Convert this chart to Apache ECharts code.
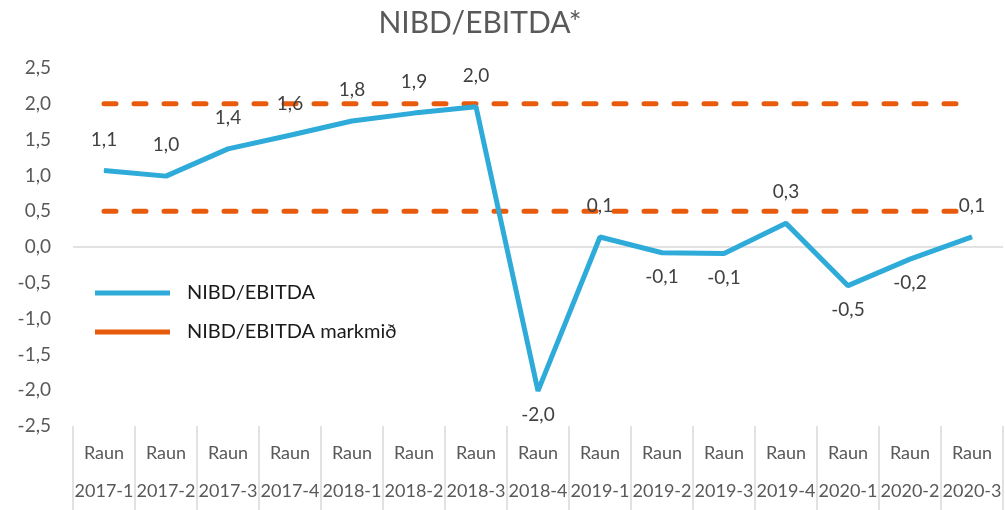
<!DOCTYPE html>
<html>
<head>
<meta charset="utf-8">
<script src="https://cdn.jsdelivr.net/npm/echarts@6/dist/echarts.min.js"></script>
<style>
  html, body { margin: 0; padding: 0; background: #fff; }
  #chart { width: 1005px; height: 510px; }
</style>
</head>
<body>
<div id="chart"></div>
<script>
// categories: top line "Raun", bottom line the quarter
const periods = ['2017-1', '2017-2', '2017-3', '2017-4', '2018-1', '2018-2', '2018-3', '2018-4',
  '2019-1', '2019-2', '2019-3', '2019-4', '2020-1', '2020-2', '2020-3']
const ratio = [1.07, 0.99, 1.37, 1.56, 1.76, 1.87, 1.96, -2.01, 0.14, -0.08, -0.09, 0.33, -0.54, -0.17, 0.14]
const targetHigh = periods.map(() => 2.0)
const targetLow = periods.map(() => 0.5)

const FONT = 'Lato, "Open Sans", sans-serif'
const fmt = v => v.toFixed(1).replace('.', ',')
// flat bar used as legend key
const LEGEND_BAR = 'path://M0,0L75,0L75,5L0,5Z'

const chart = echarts.init(document.getElementById('chart'))

const targetSeries = data => ({
  name: 'NIBD/EBITDA markmið',
  type: 'line',
  data: data,
  symbol: 'none',
  silent: true,
  lineStyle: { color: '#E95B0C', width: 5, type: [12, 18], cap: 'round' },
  itemStyle: { color: '#E95B0C' },
  z: 2,
})

chart.setOption({
  animation: false,
  textStyle: { fontFamily: FONT },
  title: {
    text: 'NIBD/EBITDA*',
    left: 475,
    top: 3,
    textAlign: 'center',
    textStyle: { fontFamily: FONT, fontSize: 30, fontWeight: 'normal', color: '#595959' },
  },
  legend: {
    orient: 'vertical',
    left: 90,
    top: 278,
    itemWidth: 75,
    itemHeight: 5,
    itemGap: 19,
    textStyle: { fontFamily: FONT, fontSize: 20, color: '#1a1a1a', padding: [0, 0, 0, 12] },
    data: [
      { name: 'NIBD/EBITDA', icon: LEGEND_BAR },
      { name: 'NIBD/EBITDA markmið', icon: LEGEND_BAR },
    ],
  },
  grid: { left: 73, right: 2, top: 68, bottom: 82 },
  xAxis: {
    type: 'category',
    data: periods.map(p => 'Raun\n' + p),
    boundaryGap: true,
    axisLine: { show: false, onZero: false },
    splitLine: { show: false },
    axisTick: { show: true, length: 84, lineStyle: { color: '#d9d9d9', width: 1.5 } },
    axisLabel: {
      interval: 0,
      margin: 8,
      fontFamily: FONT,
      fontSize: 18,
      lineHeight: 38,
      color: '#595959',
    },
  },
  yAxis: {
    type: 'value',
    min: -2.5,
    max: 2.5,
    interval: 0.5,
    axisLine: { show: false },
    axisTick: { show: false },
    splitLine: { show: false },
    axisLabel: {
      margin: 22,
      fontFamily: FONT,
      fontSize: 19,
      color: '#595959',
      formatter: v => fmt(v),
    },
  },
  series: [
    {
      name: 'NIBD/EBITDA',
      type: 'line',
      data: ratio.map(v => ({
        value: v,
        label: v < 0 ? { position: 'bottom', distance: 14 } : { position: 'top', distance: 21 },
      })),
      symbol: 'circle',
      symbolSize: 1,
      showSymbol: true,
      lineStyle: { color: '#2EABD9', width: 5 },
      itemStyle: { color: '#2EABD9' },
      z: 3,
      label: {
        show: true,
        fontFamily: FONT,
        fontSize: 19,
        color: '#404040',
        formatter: p => fmt(p.value),
      },
      markLine: {
        silent: true,
        symbol: 'none',
        label: { show: false },
        lineStyle: { color: '#d9d9d9', width: 1.5, type: 'solid' },
        data: [{ yAxis: 0 }],
        z: 1,
      },
    },
    targetSeries(targetHigh),
    targetSeries(targetLow),
  ],
})
</script>
</body>
</html>
